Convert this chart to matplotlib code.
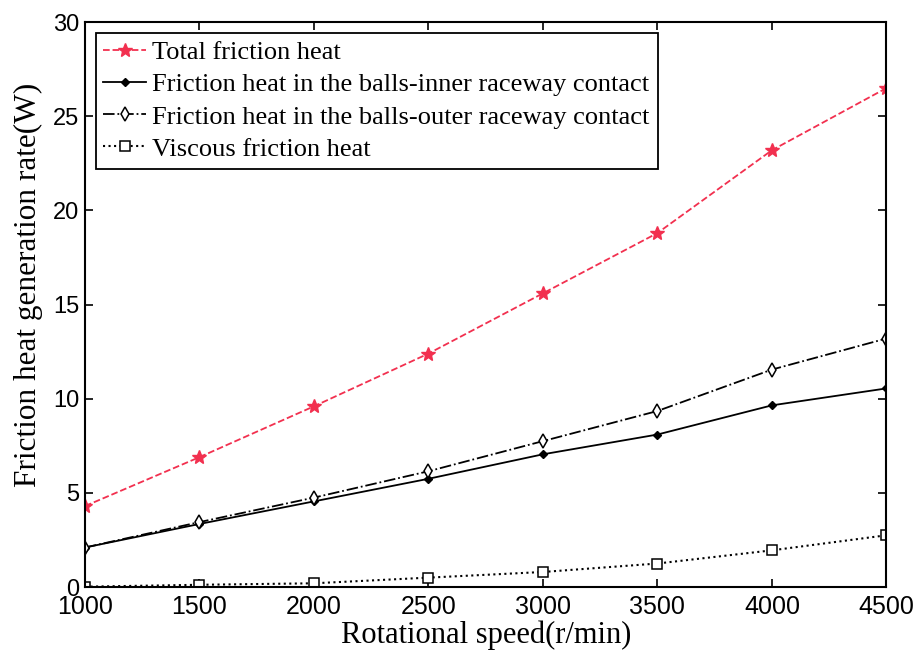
import matplotlib
matplotlib.use('Agg')
import matplotlib.pyplot as plt

# --- data ---
speed = [1000, 1500, 2000, 2500, 3000, 3500, 4000, 4500]
total_heat = [4.3, 6.9, 9.6, 12.4, 15.6, 18.8, 23.2, 26.5]
inner_heat = [2.1, 3.35, 4.55, 5.75, 7.05, 8.1, 9.65, 10.55]
outer_heat = [2.1, 3.45, 4.75, 6.15, 7.75, 9.35, 11.55, 13.2]
viscous_heat = [0.02, 0.12, 0.2, 0.5, 0.8, 1.25, 1.95, 2.75]

x_ticks = [1000, 1500, 2000, 2500, 3000, 3500, 4000, 4500]
y_ticks = [0, 5, 10, 15, 20, 25, 30]

serif = ['Liberation Serif', 'DejaVu Serif']
sans = ['Liberation Sans', 'DejaVu Sans']

fig = plt.figure(figsize=(9.19, 6.53), dpi=100)
ax = fig.add_axes([0.0925, 0.101, 0.872, 0.865])

ax.plot(speed, total_heat, linestyle='--', color='#f2304f', marker='*',
        markersize=10, linewidth=1.3, label='Total friction heat')
ax.plot(speed, inner_heat, linestyle='-', color='black', marker='D',
        markersize=4, linewidth=1.3,
        label='Friction heat in the balls-inner raceway contact')
ax.plot(speed, outer_heat, linestyle='-.', color='black', marker='d',
        markersize=7, markerfacecolor='white', markeredgewidth=1.1, linewidth=1.3,
        label='Friction heat in the balls-outer raceway contact')
ax.plot(speed, viscous_heat, linestyle=':', color='black', marker='s',
        markersize=7, markerfacecolor='white', markeredgewidth=1.1, linewidth=1.5,
        label='Viscous friction heat')

ax.set_xlim(1000, 4500)
ax.set_ylim(0, 30)
ax.set_xticks(x_ticks)
ax.set_yticks(y_ticks)
ax.tick_params(direction='in', top=True, right=True, length=6, width=1.2)
ax.tick_params(axis='x', labelsize=18, pad=6)
ax.tick_params(axis='y', labelsize=17, pad=4)
for lbl in ax.get_xticklabels() + ax.get_yticklabels():
    lbl.set_family(sans)
for sp in ax.spines.values():
    sp.set_linewidth(1.5)

ax.set_xlabel('Rotational speed(r/min)', fontsize=22, family=serif, labelpad=1)
ax.set_ylabel('Friction heat generation rate(W)', fontsize=22.5, family=serif)
ax.yaxis.set_label_coords(-0.052, 0.535)

leg = ax.legend(loc='upper left', prop={'family': serif, 'size': 19},
                frameon=True, fancybox=False, edgecolor='black',
                borderaxespad=0.4, handlelength=1.6, handletextpad=0.25,
                labelspacing=0.33, borderpad=0.3)
leg.get_frame().set_linewidth(1.3)
leg.get_frame().set_alpha(1)

fig.savefig('out.png', dpi=100)
